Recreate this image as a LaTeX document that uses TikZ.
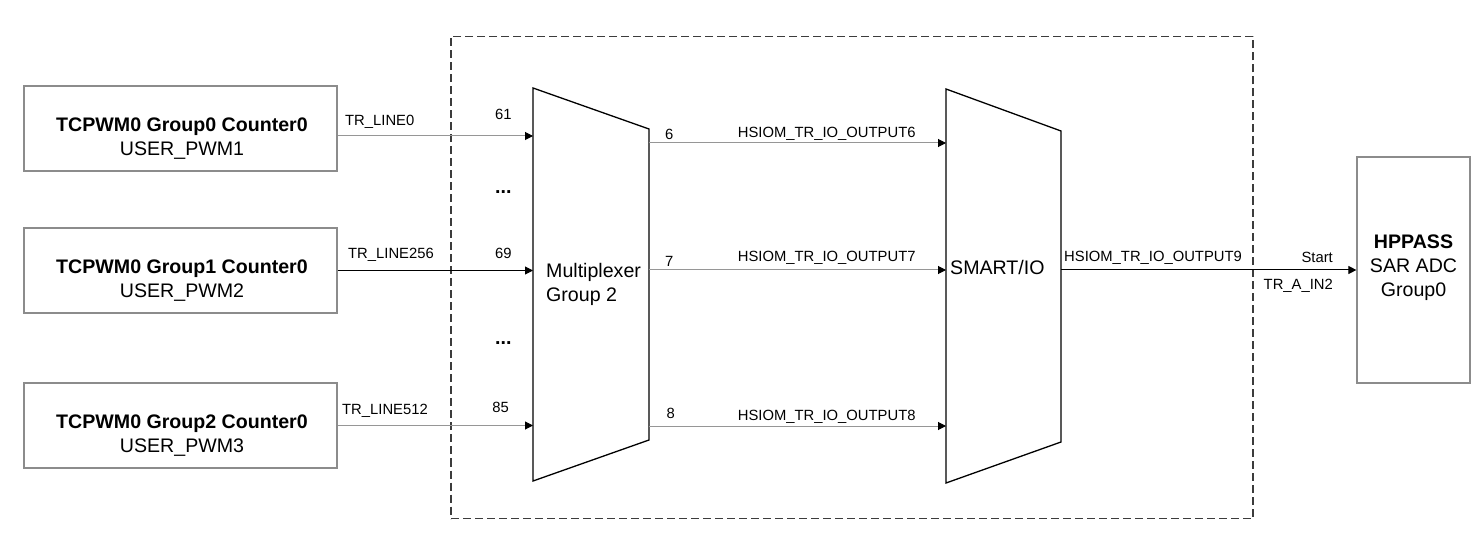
\documentclass[tikz,border=0pt]{standalone}
\usepackage{fontspec}
\setmainfont{Liberation Sans}
\usetikzlibrary{arrows.meta}
\definecolor{boxgray}{RGB}{140,140,140}
\definecolor{linegray}{RGB}{150,150,150}
\definecolor{framegray}{RGB}{60,60,60}
\begin{document}
\begin{tikzpicture}[x=1pt,y=-1pt,
  bigfont/.style={font=\fontsize{19.6pt}{24pt}\selectfont},
  smallfont/.style={font=\fontsize{14.8pt}{17pt}\selectfont},
  srcbox/.style={draw=boxgray, line width=1.2pt, minimum width=313pt, minimum height=85pt, inner sep=0pt},
  dstbox/.style={draw=boxgray, line width=1.2pt, minimum width=113pt, minimum height=226pt, inner sep=0pt},
  region/.style={inner sep=0pt, outer sep=0pt},
  frameline/.style={draw=framegray, line width=1.2pt, dash pattern=on 8pt off 4pt, inner sep=0pt, minimum width=802pt, minimum height=482pt},
  shapeline/.style={draw=black, line width=1.3pt, line join=miter},
  tip/.style={-{Triangle[length=8pt,width=8pt,color=black,fill=black]}},
  gline/.style={tip, draw=linegray, line width=1pt},
  kline/.style={tip, draw=black, line width=1pt},
  boxtext/.style={bigfont, align=center, anchor=base, inner sep=0pt},
  lbl/.style={smallfont, inner sep=0pt},
  dots/.style={bigfont, inner sep=0pt, anchor=base}
]
\useasboundingbox (0,0) rectangle (1477,537);
\fill[white] (0,0) rectangle (1477,537);

% dashed frame
\node[frameline] (frame) at (852,277.5) {};

% source boxes
\node[srcbox] (b1) at (180.5,128.5) {};
\node[srcbox] (b2) at (180.5,270.5) {};
\node[srcbox] (b3) at (180.5,425.5) {};
\node[boxtext] (t1) at ([xshift=1.5pt,yshift=-27pt]b1.center) {\textbf{TCPWM0 Group0 Counter0}\\USER\_PWM1};
\node[boxtext] (t2) at ([xshift=1.5pt,yshift=-27pt]b2.center) {\textbf{TCPWM0 Group1 Counter0}\\USER\_PWM2};
\node[boxtext] (t3) at ([xshift=1.5pt,yshift=-27pt]b3.center) {\textbf{TCPWM0 Group2 Counter0}\\USER\_PWM3};

% destination box
\node[dstbox] (hp) at (1413.5,270) {};
\node[boxtext] (thp) at ([yshift=-26.7pt]hp.center) {\textbf{HPPASS}\\SAR ADC\\Group0};

% multiplexer
\node[region, minimum width=116pt, minimum height=393pt] (mux) at (591,284.5) {};
\draw[shapeline] (mux.north west) -- ([yshift=-41pt]mux.north east) -- ([yshift=41pt]mux.south east) -- (mux.south west) -- cycle;
\node[bigfont, align=left, anchor=base west, inner sep=0pt] (muxlbl) at (546,301.7) {Multiplexer\\Group 2};

% smart io
\node[region, minimum width=115pt, minimum height=394pt] (smart) at (1003.5,286) {};
\draw[shapeline] (smart.north west) -- ([yshift=-42pt]smart.north east) -- ([yshift=41pt]smart.south east) -- (smart.south west) -- cycle;
\node[bigfont, anchor=base west, inner sep=0pt] (smartlbl) at (950,275) {SMART/IO};

% input connectors
\coordinate (a1) at ([yshift=-7.5pt]b1.east);
\draw[gline] (a1) -- (a1 -| mux.west);
\draw[kline] (b2.east) -- (b2.east -| mux.west);
\draw[gline] (b3.east) -- (b3.east -| mux.west);

% output connectors
\coordinate (o6) at (649,143);
\coordinate (o7) at (649,270);
\coordinate (o8) at (649,426);
\draw[gline] (o6) -- (o6 -| smart.west);
\draw[gline] (o7) -- (o7 -| smart.west);
\draw[gline] (o8) -- (o8 -| smart.west);
\draw[kline] (smart.east |- hp.west) -- (hp.west);

% input labels
\node[lbl, anchor=base west] (l0) at (345,125.5) {TR\_LINE0};
\node[lbl, anchor=base west] (l256) at (348,258.3) {TR\_LINE256};
\node[lbl, anchor=base west] (l512) at (342,414.3) {TR\_LINE512};
\node[lbl, anchor=base] (n61) at (503.3,120) {61};
\node[lbl, anchor=base] (n69) at (503.3,258.3) {69};
\node[lbl, anchor=base] (n85) at (500.7,412.3) {85};
\node[dots] (d1) at (503.3,193.3) {\textbf{...}};
\node[dots] (d2) at (503.3,344) {\textbf{...}};

% output labels
\node[lbl, anchor=base] (n6) at (669.3,139.3) {6};
\node[lbl, anchor=base] (n7) at (669.3,266) {7};
\node[lbl, anchor=base] (n8) at (670.7,418.3) {8};
\node[lbl, anchor=base] (h6) at (826.7,137.3) {HSIOM\_TR\_IO\_OUTPUT6};
\node[lbl, anchor=base] (h7) at (826.7,261.7) {HSIOM\_TR\_IO\_OUTPUT7};
\node[lbl, anchor=base] (h8) at (826.7,420.7) {HSIOM\_TR\_IO\_OUTPUT8};
\node[lbl, anchor=base west] (h9) at (1064,261.7) {HSIOM\_TR\_IO\_OUTPUT9};
\node[lbl, anchor=base east] (st) at (1333,262) {Start};
\node[lbl, anchor=base east] (tra) at (1333,290) {TR\_A\_IN2};
\end{tikzpicture}
\end{document}
